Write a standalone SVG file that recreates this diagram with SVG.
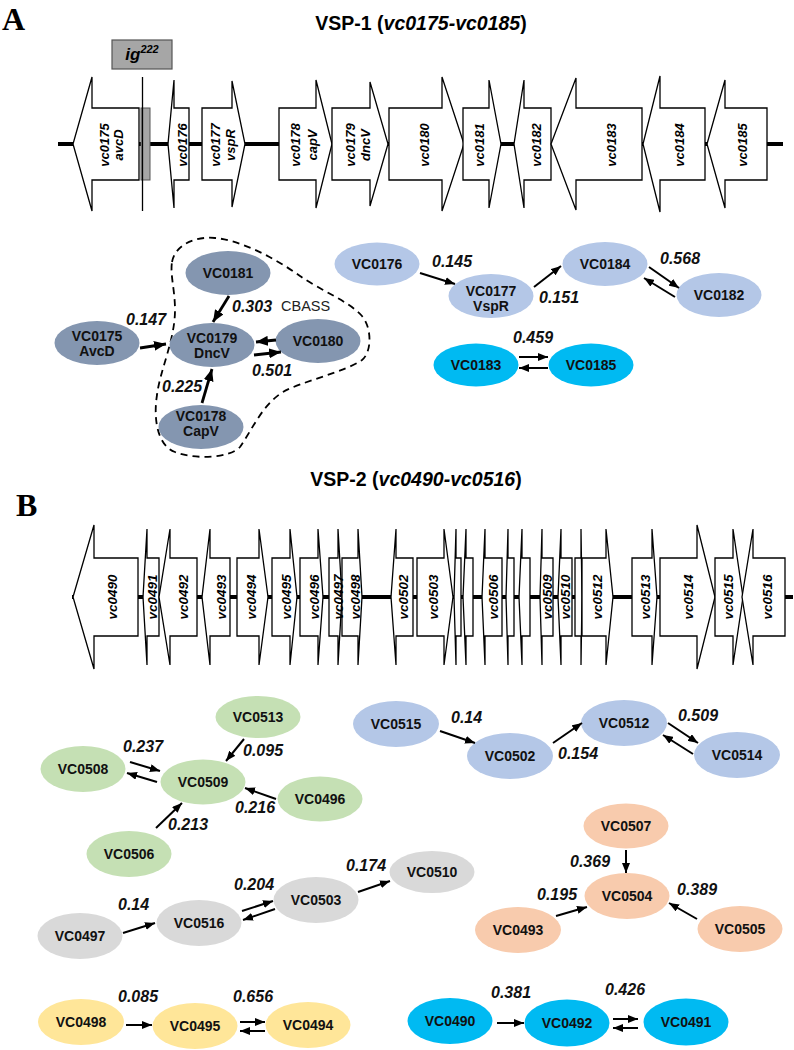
<svg xmlns="http://www.w3.org/2000/svg" width="794" height="1050" viewBox="0 0 794 1050">
<style>
.bg{fill:#fff}
.axis{stroke:#000;stroke-width:4;fill:none}
.gene{fill:#fff;stroke:#000;stroke-width:1.3;stroke-linejoin:miter}
.gl{font-family:"Liberation Sans",Arial,sans-serif;font-style:italic;font-weight:700;font-size:13px;text-anchor:middle;fill:#000}
.gb{font-size:13.5px}
.title{font-family:"Liberation Sans",Arial,sans-serif;font-weight:700;font-size:19.5px;text-anchor:middle;fill:#000}
.panel{font-family:"Liberation Serif","Times New Roman",serif;font-weight:700;font-size:32px;fill:#000}
.nt{font-family:"Liberation Sans",Arial,sans-serif;font-weight:700;font-size:14px;text-anchor:middle;fill:#111}
.el{font-family:"Liberation Sans",Arial,sans-serif;font-style:italic;font-weight:700;font-size:16px;fill:#111}
.edge{stroke:#000;stroke-width:2;fill:none;marker-end:url(#ah)}
.thick{stroke-width:2.8;marker-end:url(#ahT)}
.dk{fill:#8496B0}.lb{fill:#B4C7E7}.cy{fill:#00BAF2}.gr{fill:#C5E0B4}.gy{fill:#D9D9D9}.or{fill:#F8CBAD}.ye{fill:#FFE699}
</style>
<defs>
<marker id="ah" markerUnits="userSpaceOnUse" markerWidth="10" markerHeight="8" refX="10" refY="4" orient="auto"><path d="M0,0 L10,4 L0,8 z" fill="#000"/></marker>
<marker id="ahT" markerUnits="userSpaceOnUse" markerWidth="12" markerHeight="10" refX="12" refY="5" orient="auto"><path d="M0,0 L12,5 L0,10 z" fill="#000"/></marker>
</defs>
<rect class="bg" x="0" y="0" width="794" height="1050"/>

<!-- Panel A -->
<text class="panel" x="2" y="30">A</text>
<text class="title" x="421" y="30">VSP-1 (<tspan font-style="italic">vc0175-vc0185</tspan>)</text>

<g id="ig222">
<rect x="112" y="40" width="60" height="29" fill="#A6A6A6" stroke="#555" stroke-width="1.2"/>
<text x="142" y="60" font-family="Liberation Sans, Arial, sans-serif" font-weight="700" font-style="italic" font-size="17" text-anchor="middle" fill="#000">ig<tspan font-size="11" dy="-7">222</tspan></text>
</g>

<g id="mapA">
<line class="axis" x1="58" y1="144" x2="783" y2="144"/>
<g id="gene-vc0175"><path class="gene" d="M139,108 L92,108 L92,77 L73,144 L92,211 L92,180 L139,180 Z"/>
<text class="gl" transform="translate(104,145) rotate(-90)" y="4.6">vc0175</text>
<text class="gl" transform="translate(118,145) rotate(-90)" y="4.6">avcD</text></g>
<rect x="141" y="108" width="9" height="72" fill="#A6A6A6" stroke="#555" stroke-width="1"/>
<line x1="142.5" y1="77" x2="142.5" y2="211" stroke="#000" stroke-width="1.3"/>
<g id="gene-vc0176"><path class="gene" d="M189,108 L174,108 L174,80 L168,144 L174,208 L174,180 L189,180 Z"/>
<text class="gl" transform="translate(182,145) rotate(-90)" y="4.6">vc0176</text></g>
<g id="gene-vc0177"><path class="gene" d="M202,108 L232,108 L232,81 L245,144 L232,207 L232,180 L202,180 Z"/>
<text class="gl" transform="translate(215,145) rotate(-90)" y="4.6">vc0177</text>
<text class="gl" transform="translate(230,145) rotate(-90)" y="4.6">vspR</text></g>
<g id="gene-vc0178"><path class="gene" d="M279,108 L316,108 L316,80 L332,144 L316,208 L316,180 L279,180 Z"/>
<text class="gl" transform="translate(295,145) rotate(-90)" y="4.6">vc0178</text>
<text class="gl" transform="translate(312,145) rotate(-90)" y="4.6">capV</text></g>
<g id="gene-vc0179"><path class="gene" d="M332,108 L370,108 L370,82 L388,144 L370,206 L370,180 L332,180 Z"/>
<text class="gl" transform="translate(350,145) rotate(-90)" y="4.6">vc0179</text>
<text class="gl" transform="translate(365,145) rotate(-90)" y="4.6">dncV</text></g>
<g id="gene-vc0180"><path class="gene" d="M389,108 L442,108 L442,77 L464,144 L442,211 L442,180 L389,180 Z"/>
<text class="gl" transform="translate(424,145) rotate(-90)" y="4.6">vc0180</text></g>
<g id="gene-vc0181"><path class="gene" d="M463,108 L489,108 L489,80 L501,144 L489,208 L489,180 L463,180 Z"/>
<text class="gl" transform="translate(479,145) rotate(-90)" y="4.6">vc0181</text></g>
<g id="gene-vc0182"><path class="gene" d="M551,108 L524,108 L524,80 L514,144 L524,208 L524,180 L551,180 Z"/>
<text class="gl" transform="translate(536,145) rotate(-90)" y="4.6">vc0182</text></g>
<g id="gene-vc0183"><path class="gene" d="M642,108 L576,108 L576,78 L551,144 L576,210 L576,180 L642,180 Z"/>
<text class="gl" transform="translate(611,145) rotate(-90)" y="4.6">vc0183</text></g>
<g id="gene-vc0184"><path class="gene" d="M705,108 L660,108 L660,76 L643,144 L660,212 L660,180 L705,180 Z"/>
<text class="gl" transform="translate(679,145) rotate(-90)" y="4.6">vc0184</text></g>
<g id="gene-vc0185"><path class="gene" d="M767,108 L725,108 L725,80 L707,144 L725,208 L725,180 L767,180 Z"/>
<text class="gl" transform="translate(742,145) rotate(-90)" y="4.6">vc0185</text></g>
</g>

<g id="cbass-outline">
<path d="M172,262 C175,245 195,236 215,238 C240,240 275,258 300,276 C320,290 350,302 362,316 C372,328 372,352 362,360 C345,372 300,382 283,392 C262,405 252,430 240,447 C230,458 195,460 175,452 C158,446 153,420 157,395 C160,370 175,340 175,310 C175,290 170,275 172,262 Z" fill="none" stroke="#000" stroke-width="1.8" stroke-dasharray="7,5"/>
<text x="281" y="311" font-family="Liberation Sans, Arial, sans-serif" font-size="14.5" fill="#222">CBASS</text>
</g>

<g id="node-VC0181"><ellipse class="dk" cx="228" cy="273" rx="42.5" ry="22"/><text class="nt" x="228" y="278">VC0181</text></g>
<g id="node-VC0175"><ellipse class="dk" cx="97" cy="343" rx="42.5" ry="22"/><text class="nt" x="97" y="341">VC0175</text><text class="nt" x="97" y="356">AvcD</text></g>
<g id="node-VC0179"><ellipse class="dk" cx="212" cy="345" rx="42.5" ry="22"/><text class="nt" x="212" y="343">VC0179</text><text class="nt" x="212" y="358">DncV</text></g>
<g id="node-VC0180"><ellipse class="dk" cx="318" cy="341" rx="42.5" ry="22"/><text class="nt" x="318" y="346">VC0180</text></g>
<g id="node-VC0178"><ellipse class="dk" cx="201" cy="427" rx="42.5" ry="22"/><text class="nt" x="201" y="421">VC0178</text><text class="nt" x="201" y="436">CapV</text></g>
<g id="node-VC0176"><ellipse class="lb" cx="377" cy="264" rx="42.5" ry="21.5"/><text class="nt" x="377" y="269">VC0176</text></g>
<g id="node-VC0177"><ellipse class="lb" cx="491" cy="296" rx="42.5" ry="22"/><text class="nt" x="491" y="296">VC0177</text><text class="nt" x="491" y="311">VspR</text></g>
<g id="node-VC0184"><ellipse class="lb" cx="605" cy="264" rx="42.5" ry="22"/><text class="nt" x="605" y="269">VC0184</text></g>
<g id="node-VC0182"><ellipse class="lb" cx="719" cy="295" rx="42.5" ry="22"/><text class="nt" x="719" y="300">VC0182</text></g>
<g id="node-VC0183"><ellipse class="cy" cx="476" cy="365" rx="42.5" ry="21.5"/><text class="nt" x="476" y="370">VC0183</text></g>
<g id="node-VC0185"><ellipse class="cy" cx="591" cy="365" rx="42.5" ry="21.5"/><text class="nt" x="591" y="370">VC0185</text></g>

<!-- Panel B -->
<text class="panel" x="16" y="516">B</text>
<text class="title" x="416" y="486">VSP-2 (<tspan font-style="italic">vc0490-vc0516</tspan>)</text>

<g id="mapB">
<line class="axis" x1="72" y1="597" x2="793" y2="597"/>
<g id="gene-vc0490"><path class="gene" d="M138,558 L94,558 L94,525 L73,597 L94,669 L94,636 L138,636 Z"/><text class="gl gb" transform="translate(112,597) rotate(-90)" y="4.8">vc0490</text></g>
<g id="gene-vc0491"><path class="gene" d="M159,558 L147,558 L147,529 L143,597 L147,665 L147,636 L159,636 Z"/><text class="gl gb" transform="translate(152,597) rotate(-90)" y="4.8">vc0491</text></g>
<g id="gene-vc0492"><path class="gene" d="M197,558 L170,558 L170,529 L159,597 L170,665 L170,636 L197,636 Z"/><text class="gl gb" transform="translate(183,597) rotate(-90)" y="4.8">vc0492</text></g>
<g id="gene-vc0493"><path class="gene" d="M230,558 L210,558 L210,529 L202,597 L210,665 L210,636 L230,636 Z"/><text class="gl gb" transform="translate(221,597) rotate(-90)" y="4.8">vc0493</text></g>
<g id="gene-vc0494"><path class="gene" d="M237,558 L259,558 L259,529 L268,597 L259,665 L259,636 L237,636 Z"/><text class="gl gb" transform="translate(251,597) rotate(-90)" y="4.8">vc0494</text></g>
<g id="gene-vc0495"><path class="gene" d="M272,558 L290,558 L290,529 L297,597 L290,665 L290,636 L272,636 Z"/><text class="gl gb" transform="translate(286,597) rotate(-90)" y="4.8">vc0495</text></g>
<g id="gene-vc0496"><path class="gene" d="M300,558 L318,558 L318,529 L323,597 L318,665 L318,636 L300,636 Z"/><text class="gl gb" transform="translate(314,597) rotate(-90)" y="4.8">vc0496</text></g>
<g id="gene-vc0497"><path class="gene" d="M329,558 L338,558 L338,529 L342,597 L338,665 L338,636 L329,636 Z"/></g>
<g id="gene-vc0498"><path class="gene" d="M342,558 L358,558 L358,529 L362,597 L358,665 L358,636 L342,636 Z"/><text class="gl gb" transform="translate(355,597) rotate(-90)" y="4.8">vc0498</text></g>
<text class="gl gb" transform="translate(338,597) rotate(-90)" y="4.8">vc0497</text>
<g id="gene-vc0502"><path class="gene" d="M413,558 L396,558 L396,529 L391,597 L396,665 L396,636 L413,636 Z"/><text class="gl gb" transform="translate(403,597) rotate(-90)" y="4.8">vc0502</text></g>
<g id="gene-vc0503"><path class="gene" d="M417,558 L444,558 L444,529 L453,597 L444,665 L444,636 L417,636 Z"/><text class="gl gb" transform="translate(433,597) rotate(-90)" y="4.8">vc0503</text></g>
<g id="gene-vc0504"><path class="gene" d="M461,558 L456,558 L456,529 L454,597 L456,665 L456,636 L461,636 Z"/></g>
<g id="gene-vc0505"><path class="gene" d="M473,558 L466,558 L466,529 L463,597 L466,665 L466,636 L473,636 Z"/></g>
<g id="gene-vc0506"><path class="gene" d="M502,558 L485,558 L485,529 L482,597 L485,665 L485,636 L502,636 Z"/><text class="gl gb" transform="translate(493,597) rotate(-90)" y="4.8">vc0506</text></g>
<g id="gene-vc0507"><path class="gene" d="M514,558 L508,558 L508,529 L506,597 L508,665 L508,636 L514,636 Z"/></g>
<g id="gene-vc0508"><path class="gene" d="M530,558 L522,558 L522,529 L519,597 L522,665 L522,636 L530,636 Z"/></g>
<g id="gene-vc0509"><path class="gene" d="M553,558 L542,558 L542,529 L540,597 L542,665 L542,636 L553,636 Z"/></g>
<g id="gene-vc0510"><path class="gene" d="M572,558 L561,558 L561,529 L558,597 L561,665 L561,636 L572,636 Z"/></g>
<text class="gl gb" transform="translate(547,597) rotate(-90)" y="4.8">vc0509</text>
<text class="gl gb" transform="translate(565,597) rotate(-90)" y="4.8">vc0510</text>
<g id="gene-vc0511"><path class="gene" d="M575,558 L581,558 L581,529 L582,597 L581,665 L581,636 L575,636 Z"/></g>
<g id="gene-vc0512"><path class="gene" d="M582,558 L606,558 L606,529 L613,597 L606,665 L606,636 L582,636 Z"/><text class="gl gb" transform="translate(597,597) rotate(-90)" y="4.8">vc0512</text></g>
<g id="gene-vc0513"><path class="gene" d="M632,558 L652,558 L652,529 L657,597 L652,665 L652,636 L632,636 Z"/><text class="gl gb" transform="translate(645,597) rotate(-90)" y="4.8">vc0513</text></g>
<g id="gene-vc0514"><path class="gene" d="M660,558 L697,558 L697,525 L715,597 L697,669 L697,636 L660,636 Z"/><text class="gl gb" transform="translate(688,597) rotate(-90)" y="4.8">vc0514</text></g>
<g id="gene-vc0515"><path class="gene" d="M715,558 L733,558 L733,529 L743,597 L733,665 L733,636 L715,636 Z"/><text class="gl gb" transform="translate(728,597) rotate(-90)" y="4.8">vc0515</text></g>
<g id="gene-vc0516"><path class="gene" d="M785,558 L753,558 L753,529 L742,597 L753,665 L753,636 L785,636 Z"/><text class="gl gb" transform="translate(767,597) rotate(-90)" y="4.8">vc0516</text></g>
</g>

<g id="node-VC0513"><ellipse class="gr" cx="258" cy="717" rx="42.5" ry="21"/><text class="nt" x="258" y="722">VC0513</text></g>
<g id="node-VC0508"><ellipse class="gr" cx="83" cy="769" rx="42.5" ry="23"/><text class="nt" x="83" y="774">VC0508</text></g>
<g id="node-VC0509"><ellipse class="gr" cx="203" cy="782" rx="42.5" ry="22.5"/><text class="nt" x="203" y="787">VC0509</text></g>
<g id="node-VC0496"><ellipse class="gr" cx="320" cy="799" rx="42.5" ry="22.5"/><text class="nt" x="320" y="804">VC0496</text></g>
<g id="node-VC0506"><ellipse class="gr" cx="129" cy="854" rx="42.5" ry="23"/><text class="nt" x="129" y="859">VC0506</text></g>

<g id="node-VC0515"><ellipse class="lb" cx="396" cy="724" rx="43" ry="23"/><text class="nt" x="396" y="729">VC0515</text></g>
<g id="node-VC0502"><ellipse class="lb" cx="510" cy="756" rx="43" ry="23"/><text class="nt" x="510" y="761">VC0502</text></g>
<g id="node-VC0512"><ellipse class="lb" cx="624" cy="723" rx="43" ry="23"/><text class="nt" x="624" y="728">VC0512</text></g>
<g id="node-VC0514"><ellipse class="lb" cx="737" cy="755" rx="43" ry="23"/><text class="nt" x="737" y="760">VC0514</text></g>

<g id="node-VC0507"><ellipse class="or" cx="626" cy="826" rx="42.5" ry="22.5"/><text class="nt" x="626" y="831">VC0507</text></g>
<g id="node-VC0504"><ellipse class="or" cx="627" cy="896" rx="42.5" ry="23"/><text class="nt" x="627" y="901">VC0504</text></g>
<g id="node-VC0493"><ellipse class="or" cx="518" cy="930" rx="43" ry="23"/><text class="nt" x="518" y="935">VC0493</text></g>
<g id="node-VC0505"><ellipse class="or" cx="740" cy="929" rx="42.5" ry="23"/><text class="nt" x="740" y="934">VC0505</text></g>

<g id="node-VC0497"><ellipse class="gy" cx="80" cy="936" rx="42.5" ry="23"/><text class="nt" x="80" y="941">VC0497</text></g>
<g id="node-VC0516"><ellipse class="gy" cx="199" cy="923" rx="42.5" ry="23"/><text class="nt" x="199" y="928">VC0516</text></g>
<g id="node-VC0503"><ellipse class="gy" cx="316" cy="900" rx="42.5" ry="23"/><text class="nt" x="316" y="905">VC0503</text></g>
<g id="node-VC0510"><ellipse class="gy" cx="432" cy="872" rx="42.5" ry="21"/><text class="nt" x="432" y="877">VC0510</text></g>

<g id="node-VC0498"><ellipse class="ye" cx="81" cy="1022" rx="43" ry="23"/><text class="nt" x="81" y="1027">VC0498</text></g>
<g id="node-VC0495"><ellipse class="ye" cx="195" cy="1026" rx="42.5" ry="23"/><text class="nt" x="195" y="1031">VC0495</text></g>
<g id="node-VC0494"><ellipse class="ye" cx="308" cy="1025" rx="42.5" ry="23"/><text class="nt" x="308" y="1030">VC0494</text></g>

<g id="node-VC0490"><ellipse class="cy" cx="450" cy="1021" rx="42.5" ry="23"/><text class="nt" x="450" y="1026">VC0490</text></g>
<g id="node-VC0492"><ellipse class="cy" cx="567" cy="1023" rx="42.5" ry="23.5"/><text class="nt" x="567" y="1028">VC0492</text></g>
<g id="node-VC0491"><ellipse class="cy" cx="686" cy="1022" rx="42.5" ry="23.5"/><text class="nt" x="686" y="1027">VC0491</text></g>

<g id="connectors">
<line class="edge thick" x1="140" y1="348" x2="166" y2="344"/>
<line class="edge thick" x1="229" y1="296" x2="213" y2="322"/>
<line class="edge thick" x1="276" y1="340" x2="256" y2="342"/>
<line class="edge thick" x1="254" y1="355" x2="281" y2="352"/>
<line class="edge thick" x1="202" y1="403" x2="212" y2="369"/>
<line class="edge" x1="420" y1="273" x2="455" y2="284"/>
<line class="edge" x1="534" y1="287" x2="561" y2="266"/>
<line class="edge" x1="649" y1="267" x2="679" y2="288"/>
<line class="edge" x1="675" y1="297" x2="644" y2="278"/>
<line class="edge" x1="519" y1="357" x2="548" y2="357"/>
<line class="edge" x1="548" y1="368" x2="519" y2="368"/>

<line class="edge" x1="130" y1="762" x2="160" y2="771"/>
<line class="edge" x1="157" y1="782" x2="127" y2="773"/>
<line class="edge" x1="244" y1="739" x2="226" y2="761"/>
<line class="edge" x1="276" y1="799" x2="245" y2="788"/>
<line class="edge" x1="156" y1="828" x2="182" y2="803"/>

<line class="edge" x1="440" y1="731" x2="475" y2="743"/>
<line class="edge" x1="553" y1="743" x2="582" y2="723"/>
<line class="edge" x1="668" y1="723" x2="698" y2="743"/>
<line class="edge" x1="693" y1="754" x2="663" y2="735"/>

<line class="edge" x1="626" y1="850" x2="626" y2="873"/>
<line class="edge" x1="556" y1="916" x2="587" y2="907"/>
<line class="edge" x1="697" y1="919" x2="669" y2="903"/>

<line class="edge" x1="123" y1="933" x2="155" y2="923"/>
<line class="edge" x1="242" y1="911" x2="273" y2="901"/>
<line class="edge" x1="275" y1="909" x2="243" y2="920"/>
<line class="edge" x1="358" y1="892" x2="390" y2="881"/>

<line class="edge" x1="126" y1="1025" x2="152" y2="1025"/>
<line class="edge" x1="240" y1="1022" x2="265" y2="1022"/>
<line class="edge" x1="265" y1="1031" x2="240" y2="1031"/>

<line class="edge" x1="497" y1="1023" x2="524" y2="1023"/>
<line class="edge" x1="613" y1="1019" x2="638" y2="1019"/>
<line class="edge" x1="638" y1="1028" x2="613" y2="1028"/>
</g>

<g id="edge-labels">
<text class="el" x="126" y="325">0.147</text>
<text class="el" x="232" y="312">0.303</text>
<text class="el" x="252" y="376">0.501</text>
<text class="el" x="162" y="392">0.225</text>
<text class="el" x="432" y="267">0.145</text>
<text class="el" x="539" y="303">0.151</text>
<text class="el" x="660" y="264">0.568</text>
<text class="el" x="513" y="343">0.459</text>
<text class="el" x="123" y="752">0.237</text>
<text class="el" x="243" y="756">0.095</text>
<text class="el" x="235" y="813">0.216</text>
<text class="el" x="168" y="830">0.213</text>
<text class="el" x="451" y="723">0.14</text>
<text class="el" x="558" y="759">0.154</text>
<text class="el" x="678" y="721">0.509</text>
<text class="el" x="570" y="867">0.369</text>
<text class="el" x="537" y="900">0.195</text>
<text class="el" x="677" y="895">0.389</text>
<text class="el" x="118" y="910">0.14</text>
<text class="el" x="234" y="890">0.204</text>
<text class="el" x="346" y="871">0.174</text>
<text class="el" x="118" y="1002">0.085</text>
<text class="el" x="233" y="1002">0.656</text>
<text class="el" x="491" y="998">0.381</text>
<text class="el" x="605" y="995">0.426</text>
</g>
</svg>
